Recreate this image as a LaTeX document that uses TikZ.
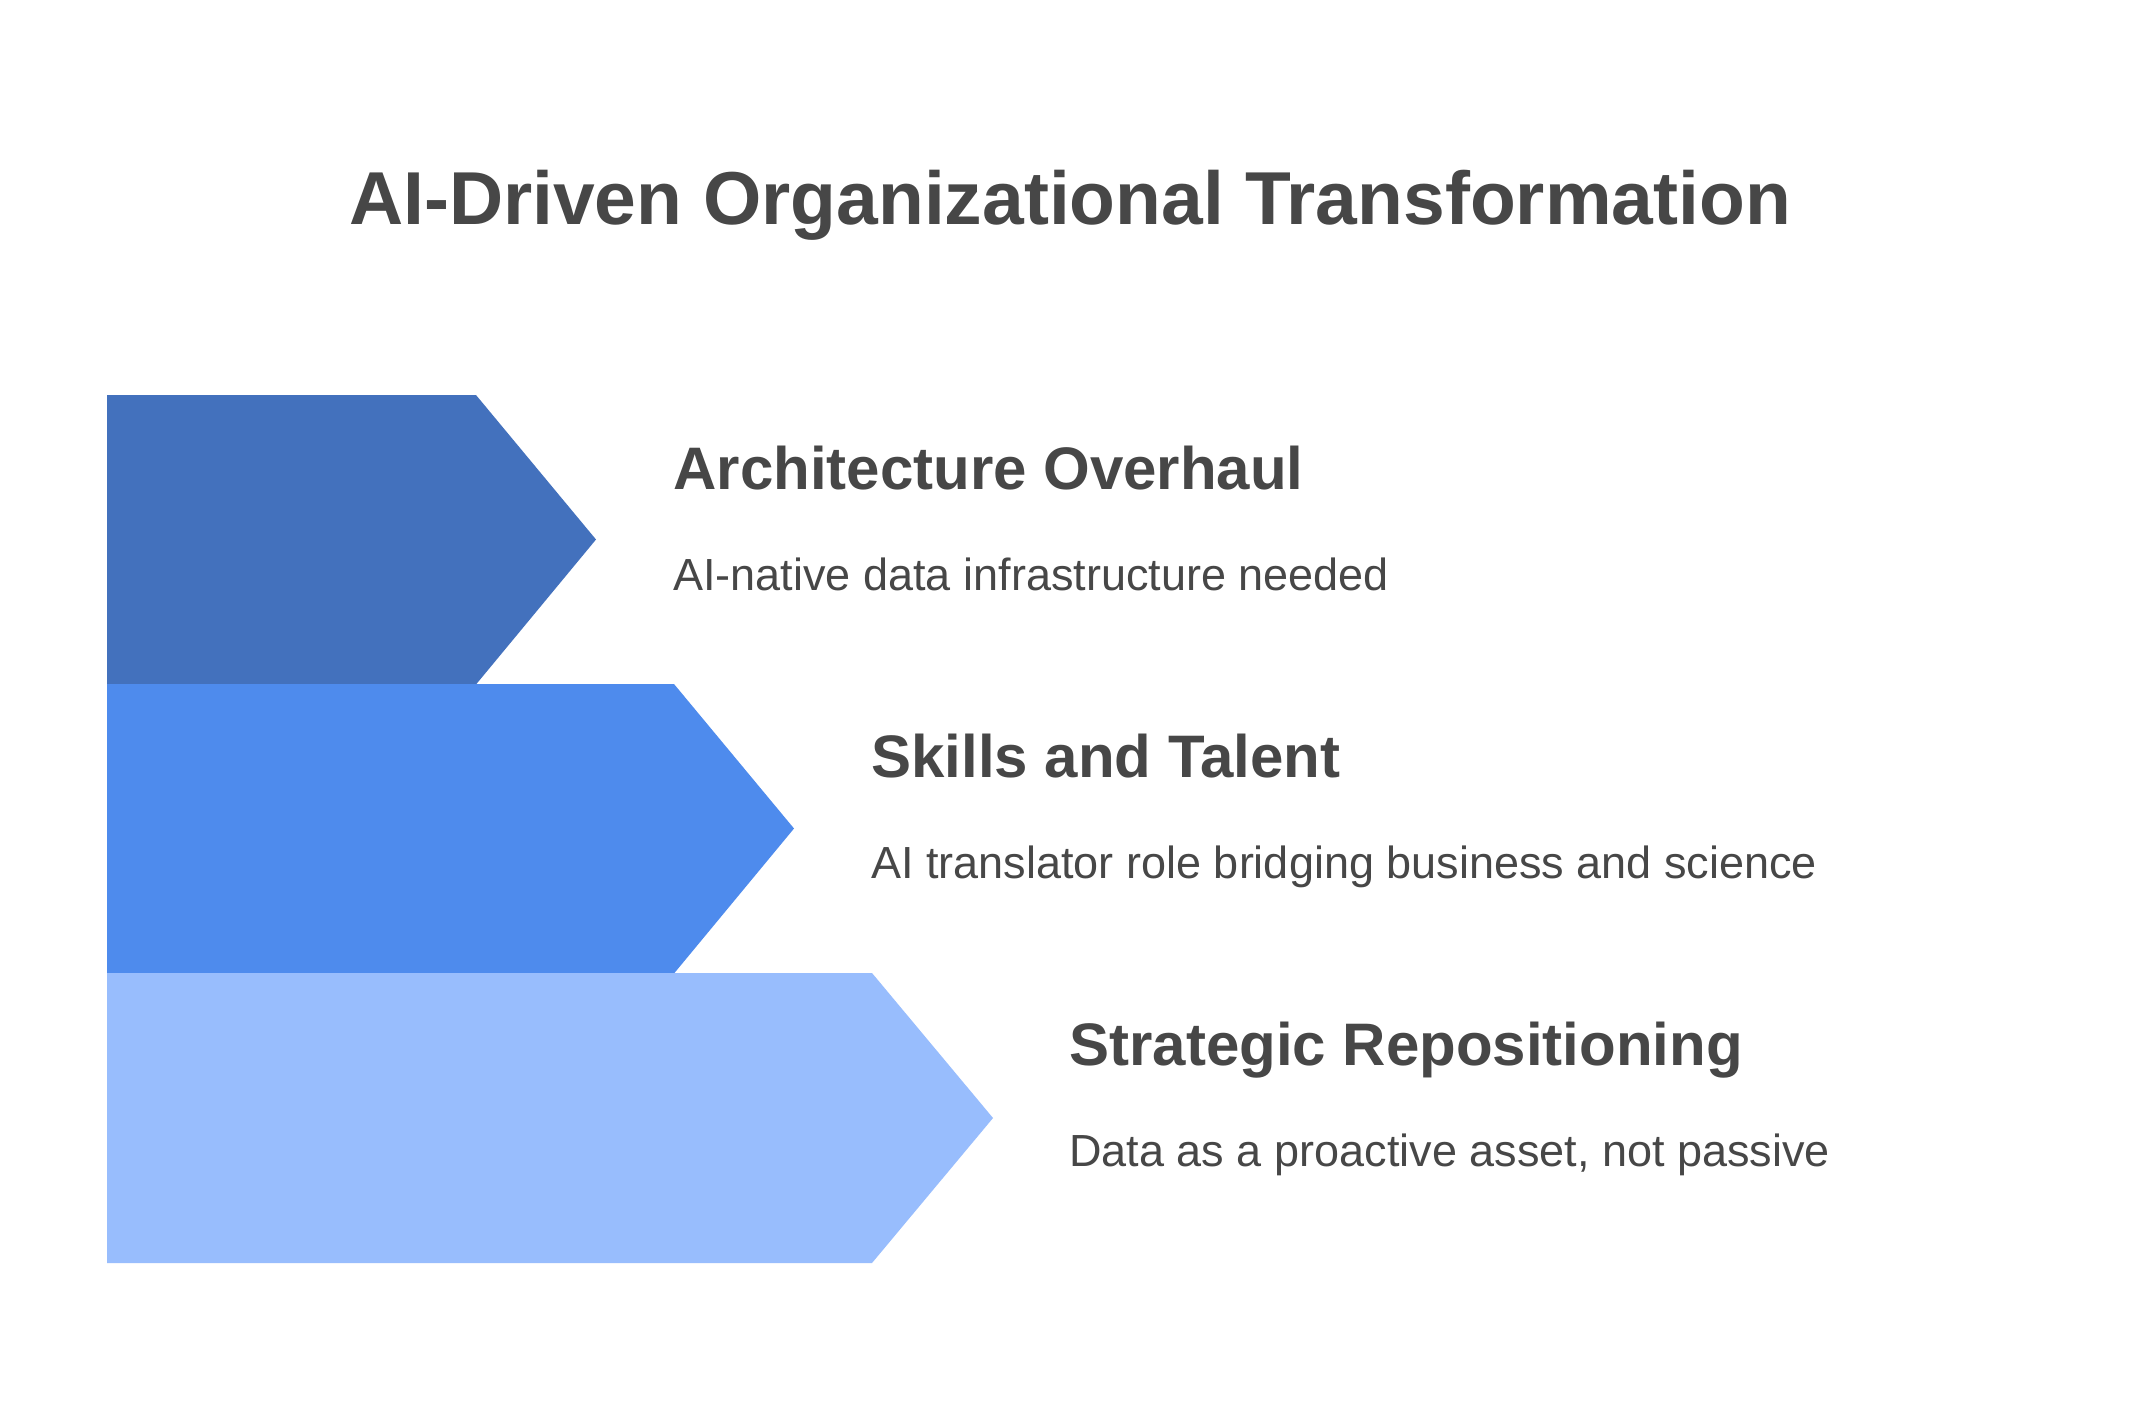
\documentclass[tikz,border=0pt]{standalone}
\usepackage{fontspec}
\setmainfont{Liberation Sans}
\definecolor{txt}{HTML}{474747}
\definecolor{blueA}{HTML}{4371BD}
\definecolor{blueB}{HTML}{4E8BED}
\definecolor{blueC}{HTML}{98BDFD}
\tikzset{
  heading/.style={anchor=base west, inner sep=0pt, text=txt, font=\fontsize{30pt}{36pt}\selectfont\bfseries},
  desc/.style={anchor=base west, inner sep=0pt, text=txt, font=\fontsize{22.5pt}{27pt}\selectfont},
  titletext/.style={anchor=base, inner sep=0pt, text=txt, font=\fontsize{37.5pt}{45pt}\selectfont\bfseries},
}
\begin{document}
\begin{tikzpicture}[x=0.5pt,y=-0.5pt]
\useasboundingbox (0,0) rectangle (2142,1404);
\fill[white] (0,0) rectangle (2142,1404);
% chevron bars
\fill[blueA] (107,395) -- (476,395) -- (596,539.5) -- (476,684.5) -- (107,684.5) -- cycle;
\fill[blueB] (107,684) -- (674,684) -- (794,828.5) -- (674,973.5) -- (107,973.5) -- cycle;
\fill[blueC] (107,973) -- (872,973) -- (993,1118) -- (872,1263) -- (107,1263) -- cycle;
% title
\node[titletext] (title) at (1070,224) {AI-Driven Organizational Transformation};
% labels
\node[heading] (h1) at (673,489) {Architecture Overhaul};
\node[desc] (d1) at (673,590) {AI-native data infrastructure needed};
\node[heading] (h2) at (871,777) {Skills and Talent};
\node[desc] (d2) at (871,878) {AI translator role bridging business and science};
\node[heading] (h3) at (1069,1065) {Strategic Repositioning};
\node[desc] (d3) at (1069,1166) {Data as a proactive asset, not passive};
\end{tikzpicture}
\end{document}
